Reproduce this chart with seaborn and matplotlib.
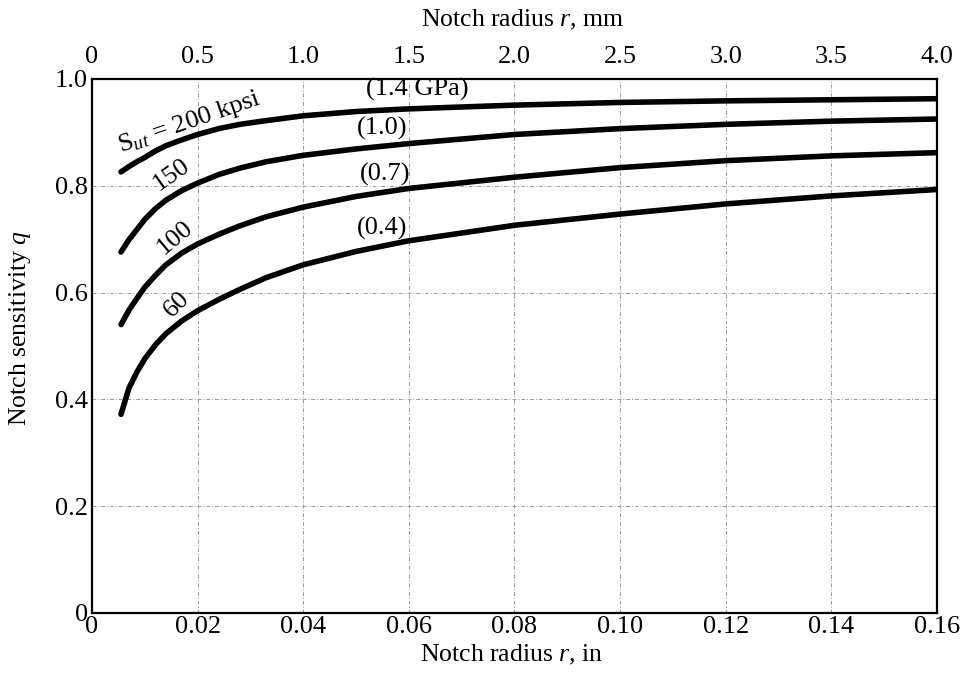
import matplotlib
matplotlib.use("Agg")
import matplotlib.pyplot as plt
import seaborn as sns
import pandas as pd
from matplotlib.ticker import FixedLocator, FixedFormatter

# ---- data ----
r_in = [0.0055, 0.007, 0.0085, 0.010, 0.012, 0.014, 0.017, 0.020, 0.024,
        0.028, 0.033, 0.04, 0.05, 0.06, 0.08, 0.10, 0.12, 0.14, 0.16]
q_200 = [0.826, 0.836, 0.845, 0.853, 0.865, 0.875, 0.886, 0.896, 0.907,
         0.915, 0.922, 0.931, 0.939, 0.944, 0.951, 0.956, 0.959, 0.961, 0.963]
q_150 = [0.676, 0.699, 0.718, 0.737, 0.757, 0.773, 0.791, 0.805, 0.821,
         0.833, 0.845, 0.857, 0.869, 0.879, 0.896, 0.907, 0.915, 0.921, 0.925]
q_100 = [0.540, 0.567, 0.589, 0.610, 0.632, 0.652, 0.674, 0.691, 0.709,
         0.725, 0.742, 0.760, 0.780, 0.795, 0.816, 0.834, 0.847, 0.856, 0.862]
q_60 = [0.372, 0.421, 0.451, 0.476, 0.502, 0.523, 0.547, 0.566, 0.587,
        0.606, 0.628, 0.652, 0.677, 0.697, 0.726, 0.747, 0.766, 0.781, 0.793]
strengths = ["200", "150", "100", "60"]

x_ticks = [0, 0.02, 0.04, 0.06, 0.08, 0.10, 0.12, 0.14, 0.16]
x_ticklabels = ["0", "0.02", "0.04", "0.06", "0.08", "0.10", "0.12", "0.14", "0.16"]
y_ticks = [0, 0.2, 0.4, 0.6, 0.8, 1.0]
y_ticklabels = ["0", "0.2", "0.4", "0.6", "0.8", "1.0"]
mm_ticks = [0, 0.5, 1.0, 1.5, 2.0, 2.5, 3.0, 3.5, 4.0]
mm_ticklabels = ["0", "0.5", "1.0", "1.5", "2.0", "2.5", "3.0", "3.5", "4.0"]

df = pd.concat([
    pd.DataFrame({"r": r_in, "q": q, "Sut": s})
    for s, q in zip(strengths, [q_200, q_150, q_100, q_60])
])

# ---- style ----
sns.set_theme(style="white")
plt.rcParams["font.family"] = ["Liberation Serif", "DejaVu Serif"]
plt.rcParams["mathtext.fontset"] = "custom"
plt.rcParams["mathtext.rm"] = "Liberation Serif"
plt.rcParams["mathtext.it"] = "Liberation Serif:italic"
plt.rcParams["text.color"] = "black"
plt.rcParams["axes.labelcolor"] = "black"

FS_TICK = 19
FS_LAB = 18.5
FS_ANN = 19
fig = plt.figure(figsize=(9.68, 6.76), dpi=100)
ax = fig.add_axes([0.095, 0.0932, 0.873, 0.790])

sns.lineplot(data=df, x="r", y="q", hue="Sut", palette=["black"] * 4,
             linewidth=4, sort=False, legend=False, ax=ax, estimator=None)

ax.set_xlim(0, 0.16)
ax.set_ylim(0, 1.0)
ax.xaxis.set_major_locator(FixedLocator(x_ticks))
ax.xaxis.set_major_formatter(FixedFormatter(x_ticklabels))
ax.yaxis.set_major_locator(FixedLocator(y_ticks))
ax.yaxis.set_major_formatter(FixedFormatter(y_ticklabels))
ax.tick_params(axis="x", length=0, pad=2, labelsize=FS_TICK, colors="black")
ax.tick_params(axis="y", length=0, pad=3, labelsize=FS_TICK, colors="black")

ax.grid(True, color="#999999", linewidth=0.7, linestyle=(0, (4, 2, 1, 2)))
for sp in ax.spines.values():
    sp.set_visible(True)
    sp.set_color("black")
    sp.set_linewidth(1.6)

sec = ax.secondary_xaxis("top", functions=(lambda x: x * 25.0, lambda m: m / 25.0))
sec.xaxis.set_major_locator(FixedLocator(mm_ticks))
sec.xaxis.set_major_formatter(FixedFormatter(mm_ticklabels))
sec.tick_params(length=0, pad=8, labelsize=FS_TICK, colors="black")
sec.spines["top"].set_visible(False)

ax.set_xlabel("")
ax.set_ylabel("")
fig.text(0.529, 0.031, "Notch radius $r$, in", ha="center", va="center", fontsize=FS_LAB)
fig.text(0.540, 0.970, "Notch radius $r$, mm", ha="center", va="center", fontsize=FS_LAB)
fig.text(0.021, 0.515, "Notch sensitivity $q$", ha="center", va="center",
         rotation=90, fontsize=FS_LAB)

# curve labels
ax.text(0.0184, 0.918, r"$\mathrm{S}_{ut}$ = 200 kpsi", rotation=19,
        ha="center", va="center", fontsize=FS_ANN)
ax.text(0.0151, 0.820, "150", rotation=35, ha="center", va="center", fontsize=FS_ANN)
ax.text(0.0157, 0.702, "100", rotation=40, ha="center", va="center", fontsize=FS_ANN)
ax.text(0.0160, 0.577, "60", rotation=45, ha="center", va="center", fontsize=FS_ANN)
ax.text(0.0615, 0.981, "(1.4 GPa)", ha="center", va="center", fontsize=FS_ANN)
ax.text(0.0550, 0.907, "(1.0)", ha="center", va="center", fontsize=FS_ANN)
ax.text(0.0555, 0.821, "(0.7)", ha="center", va="center", fontsize=FS_ANN)
ax.text(0.0550, 0.720, "(0.4)", ha="center", va="center", fontsize=FS_ANN)

fig.savefig("out.png", dpi=100)
